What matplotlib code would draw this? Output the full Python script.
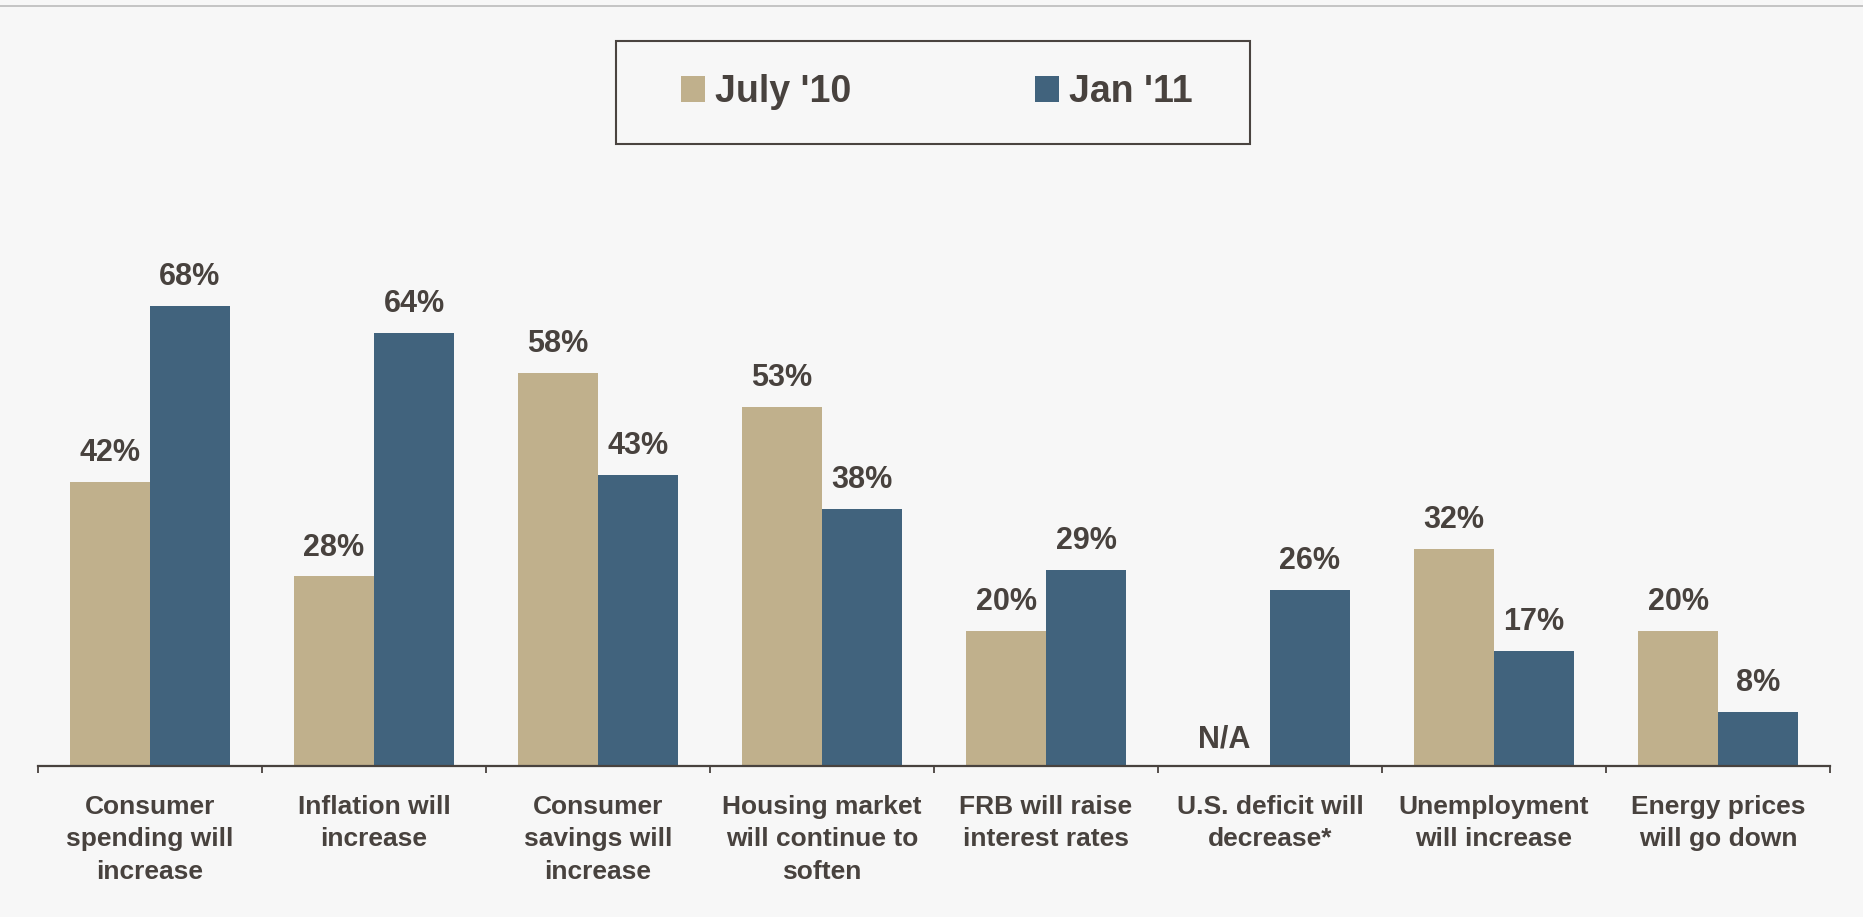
import matplotlib
matplotlib.use("Agg")
import matplotlib.pyplot as plt
from matplotlib.lines import Line2D
from matplotlib.patches import Rectangle
import numpy as np

categories = [
    "Consumer\nspending will\nincrease",
    "Inflation will\nincrease",
    "Consumer\nsavings will\nincrease",
    "Housing market\nwill continue to\nsoften",
    "FRB will raise\ninterest rates",
    "U.S. deficit will\ndecrease*",
    "Unemployment\nwill increase",
    "Energy prices\nwill go down",
]
july_10 = [42, 28, 58, 53, 20, None, 32, 20]
jan_11 = [68, 64, 43, 38, 29, 26, 17, 8]
series_names = ["July '10", "Jan '11"]

TAN = "#c0b08c"
BLUE = "#41637d"
TEXT = "#48423e"
BG = "#f7f7f7"
FONT = ["Liberation Sans", "DejaVu Sans"]

W, H = 1863, 917
AXIS_Y, AXIS_TOP = 766, 45
fig = plt.figure(figsize=(W / 100, H / 100), dpi=100, facecolor=BG)
ax = fig.add_axes([38 / W, 1 - AXIS_Y / H, (1830 - 38) / W, (AXIS_Y - AXIS_TOP) / H])
ax.set_facecolor(BG)

x = np.arange(len(categories))
w = 0.357
july_vals = [v if v is not None else 0 for v in july_10]
b1 = ax.bar(x - w / 2, july_vals, w, color=TAN, label=series_names[0])
b2 = ax.bar(x + w / 2, jan_11, w, color=BLUE, label=series_names[1])

ax.set_xlim(-0.5, len(categories) - 0.5)
ax.set_ylim(0, (AXIS_Y - AXIS_TOP) / 6.77)

label_kw = dict(ha="center", va="bottom", textcoords="offset points",
                fontsize=22, fontweight="bold", color=TEXT, family=FONT)
for xi, v in zip(x - w / 2, july_10):
    if v is None:
        ax.annotate("N/A", (xi, 0), xytext=(-4, 8), **label_kw)
    else:
        ax.annotate(f"{v}%", (xi, v), xytext=(0, 10), **label_kw)
for xi, v in zip(x + w / 2, jan_11):
    ax.annotate(f"{v}%", (xi, v), xytext=(0, 10), **label_kw)

# axis styling
for s in ("top", "right", "left"):
    ax.spines[s].set_visible(False)
ax.spines["bottom"].set_color(TEXT)
ax.spines["bottom"].set_linewidth(1.6)
ax.set_yticks([])
ax.set_xticks(x)
ax.set_xticklabels(categories, fontsize=19, fontweight="bold", color=TEXT,
                   family=FONT, linespacing=1.43)
ax.tick_params(axis="x", which="major", length=0, pad=21)
ax.set_xticks(np.arange(len(categories) + 1) - 0.5, minor=True)
ax.tick_params(axis="x", which="minor", length=5, width=1.3, color=TEXT,
               direction="out")

# legend with a drawn frame
leg = fig.legend(handles=[b1, b2], labels=series_names, loc="center",
                 bbox_to_anchor=(936.5 / W, 1 - 92 / H), ncol=2,
                 frameon=False, prop=dict(family=FONT, weight="bold", size=27),
                 handlelength=0.64, handleheight=0.67, handletextpad=0.27,
                 columnspacing=4.9, labelcolor=TEXT)
fig.add_artist(Rectangle((616 / W, 1 - 144 / H), (1250 - 616) / W,
                         (144 - 41) / H, transform=fig.transFigure,
                         fill=False, edgecolor="#4a4440", linewidth=1.5))

# thin rule along the top edge
fig.add_artist(Line2D([0, 1], [1 - 5.5 / H] * 2, transform=fig.transFigure,
                      color="#c0c0c0", linewidth=1.3))

fig.savefig("out.png", dpi=100, facecolor=BG)
